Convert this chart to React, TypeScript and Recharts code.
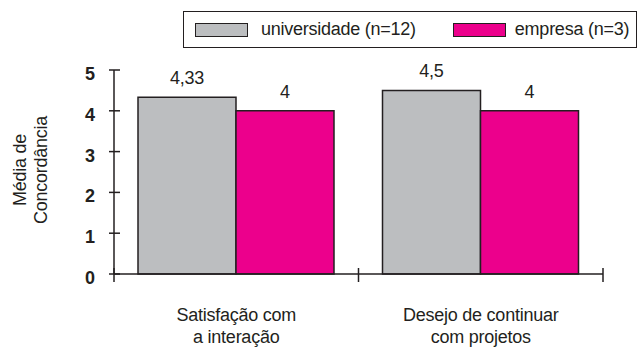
import { BarChart, Bar, XAxis, YAxis, LabelList } from 'recharts'

const categories = ['Satisfação com\na interação', 'Desejo de continuar\ncom projetos']
const universidade = [4.33, 4.5]
const empresa = [4, 4]
const yTicks = [0, 1, 2, 3, 4, 5]

const series = [
  { key: 'universidade', name: 'universidade (n=12)', color: '#BCBEC0' },
  { key: 'empresa', name: 'empresa (n=3)', color: '#EC008C' },
]

const data = categories.map((name, i) => ({
  name,
  universidade: universidade[i],
  empresa: empresa[i],
}))

const INK = '#231F20'
const FONT = '"Liberation Sans", Arial, sans-serif'
const FS = 18
const LS = -0.25

const fmt = (v: unknown) => String(v).replace('.', ',')

function YTick({ x, y, payload }: any) {
  return (
    <g>
      <line x1={x - 5} x2={x + 6} y1={y} y2={y} stroke={INK} strokeWidth={1.5} />
      <text
        x={x - 19}
        y={y + 4}
        textAnchor="end"
        dominantBaseline="central"
        fontSize={FS}
        fontWeight="bold"
        fill={INK}
        fontFamily={FONT}
      >
        {payload.value}
      </text>
    </g>
  )
}

function XTick({ x, y, payload, index, width, visibleTicksCount }: any) {
  const half = width / visibleTicksCount / 2
  const lines = String(payload.value).split('\n')
  return (
    <g>
      {index === 0 && <line x1={x - half} x2={x - half} y1={y - 6} y2={y + 8} stroke={INK} strokeWidth={1.5} />}
      <line x1={x + half} x2={x + half} y1={y - 6} y2={y + 8} stroke={INK} strokeWidth={1.5} />
      {lines.map((l, i) => (
        <text
          key={i}
          x={x}
          y={y + 47 + i * 22}
          textAnchor="middle"
          fontSize={FS}
          letterSpacing={LS}
          fill={INK}
          fontFamily={FONT}
        >
          {l}
        </text>
      ))}
    </g>
  )
}

function YTitle({ viewBox }: any) {
  const cy = viewBox.y + viewBox.height / 2 - 2
  return (
    <g fontSize={FS} fill={INK} fontFamily={FONT} letterSpacing={LS}>
      <text x={26} y={cy} textAnchor="middle" transform={`rotate(-90, 26, ${cy})`}>Média de</text>
      <text x={47} y={cy} textAnchor="middle" transform={`rotate(-90, 47, ${cy})`}>Concordância</text>
    </g>
  )
}

export default function App() {
  return (
    <div style={{ position: 'absolute', left: 0, top: 0, width: 639, height: 348, background: '#fff', fontFamily: FONT }}>
      <BarChart
        width={639}
        height={348}
        data={data}
        margin={{ top: 70, right: 36, bottom: 0, left: 0 }}
        barCategoryGap={24}
        barGap={0}
      >
        <YAxis
          width={114}
          domain={[0, 5]}
          ticks={yTicks}
          interval={0}
          tickSize={0}
          tickMargin={0}
          tickLine={false}
          axisLine={{ stroke: INK, strokeWidth: 1.5 }}
          tick={<YTick />}
          label={{ content: <YTitle /> }}
        />
        <XAxis
          dataKey="name"
          height={74}
          interval={0}
          tickSize={0}
          tickMargin={0}
          tickLine={false}
          axisLine={{ stroke: INK, strokeWidth: 1.5 }}
          tick={<XTick />}
        />
        {series.map((s) => (
          <Bar key={s.key} dataKey={s.key} name={s.name} fill={s.color} stroke={INK} strokeWidth={1.5} isAnimationActive={false}>
            <LabelList
              dataKey={s.key}
              position="top"
              offset={13}
              formatter={fmt}
              fill={INK}
              fontSize={FS}
              fontFamily={FONT}
              letterSpacing={LS}
            />
          </Bar>
        ))}
      </BarChart>

      <div
        style={{
          position: 'absolute',
          left: 183,
          top: 11,
          width: 454,
          height: 37,
          boxSizing: 'border-box',
          border: `1.5px solid ${INK}`,
          display: 'flex',
          alignItems: 'center',
          fontSize: FS,
          letterSpacing: LS,
          color: INK,
        }}
      >
        {series.map((s, i) => (
          <div key={s.key} style={{ display: 'flex', alignItems: 'center', marginLeft: i === 0 ? 11 : 37 }}>
            <div style={{ width: 53, height: 14, background: s.color, border: `1.5px solid ${INK}`, boxSizing: 'border-box' }} />
            <span style={{ marginLeft: i === 0 ? 13 : 9 }}>{s.name}</span>
          </div>
        ))}
      </div>
    </div>
  )
}
